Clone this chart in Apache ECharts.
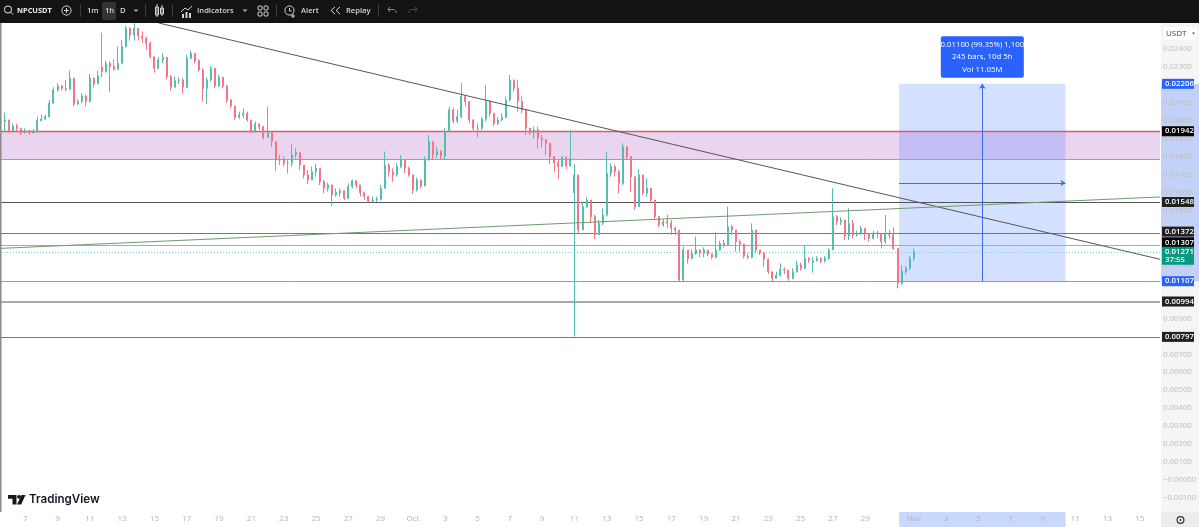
<!DOCTYPE html>
<html><head><meta charset="utf-8">
<style>html,body{margin:0;padding:0;background:#fff}#c{width:1199px;height:527px}</style>
<script src="https://cdn.jsdelivr.net/npm/echarts@6/dist/echarts.min.js"></script>
</head><body><div id="c"></div>
<script>
// prices below are in units of 0.00001 USDT; one candle every 6 hours from Sep 5 12:00
const closes=[1996,2005,1945,1971,1958,1934,1945,1934,1940,2001,2009,2023,2098,2172,2194,2181,2176,2237,2094,2107,2138,2107,2237,2205,2250,2274,2320,2302,2287,2320,2413,2515,2478,2515,2473,2460,2432,2357,2293,2339,2354,2246,2187,2224,2228,2187,2348,2376,2335,2283,2181,2228,2293,2194,2242,2194,2116,2083,2020,2033,2042,2005,1940,1983,1968,1908,1934,1884,1782,1786,1764,1764,1810,1823,1754,1699,1671,1717,1736,1661,1624,1643,1587,1600,1611,1569,1634,1667,1643,1600,1578,1554,1559,1563,1624,1754,1717,1699,1745,1782,1736,1699,1615,1671,1637,1782,1884,1810,1829,1804,1940,2061,1999,2023,2135,2107,2005,1959,1959,2009,2107,2042,1986,2005,2020,2116,2224,2181,2107,2061,1959,1934,1949,1903,1894,1875,1801,1767,1745,1797,1749,1791,1699,1392,1522,1559,1467,1365,1430,1476,1708,1745,1717,1652,1856,1801,1689,1522,1699,1597,1624,1559,1467,1420,1439,1430,1402,1392,1114,1281,1234,1262,1281,1262,1281,1258,1240,1281,1318,1308,1410,1392,1327,1314,1247,1240,1392,1281,1266,1229,1160,1123,1141,1173,1169,1123,1160,1197,1179,1234,1225,1221,1234,1221,1234,1281,1466,1438,1448,1359,1429,1364,1373,1401,1373,1346,1373,1373,1327,1373,1364,1290,1095,1160,1179,1234,1271];
const highs=[2014,2046,1986,1986,1983,1958,1958,1949,1953,2023,2033,2033,2116,2187,2209,2200,2228,2280,2237,2120,2153,2144,2261,2242,2280,2491,2335,2330,2343,2413,2450,2528,2521,2543,2515,2497,2469,2441,2357,2354,2376,2354,2255,2246,2242,2237,2367,2391,2376,2343,2293,2242,2305,2293,2255,2237,2200,2120,2079,2051,2070,2051,2005,1996,1986,1971,2079,1940,1884,1810,1801,1782,1871,1847,1823,1754,1726,1745,1760,1736,1671,1656,1643,1624,1624,1615,1652,1674,1667,1643,1606,1582,1578,1578,1643,1829,1764,1736,1764,1810,1782,1745,1699,1684,1671,1801,1921,1875,1856,1838,1958,2079,2070,2061,2209,2144,2107,2009,1986,2020,2200,2116,2042,2020,2042,2135,2255,2231,2228,2135,1986,1959,1968,1968,1921,1897,1847,1801,1782,1804,1801,1949,1760,1699,1550,1574,1559,1476,1448,1513,1829,1764,1754,1727,1875,1853,1791,1689,1730,1699,1680,1624,1559,1467,1452,1476,1448,1411,1392,1299,1281,1284,1355,1284,1295,1281,1262,1383,1332,1336,1522,1420,1392,1340,1314,1262,1429,1392,1281,1266,1234,1160,1160,1206,1184,1169,1179,1221,1210,1303,1240,1240,1247,1240,1247,1290,1624,1475,1462,1448,1513,1448,1388,1414,1401,1373,1388,1388,1373,1475,1392,1407,1290,1197,1192,1247,1290];
const lows=[1958,1940,1931,1945,1940,1921,1927,1923,1927,1934,1996,2009,2020,2094,2163,2168,2163,2172,2083,2088,2098,2079,2101,2187,2205,2242,2268,2163,2280,2283,2320,2409,2447,2447,2447,2432,2395,2348,2268,2287,2320,2231,2168,2187,2205,2150,2181,2343,2320,2274,2107,2094,2218,2181,2187,2181,2101,2070,2005,2009,2014,1996,1931,1934,1949,1897,1908,1856,1723,1754,1745,1708,1745,1791,1726,1680,1648,1671,1689,1643,1597,1606,1526,1578,1578,1559,1563,1624,1624,1578,1559,1546,1546,1548,1556,1624,1689,1661,1689,1736,1708,1689,1593,1606,1624,1637,1778,1786,1791,1786,1786,1940,1986,1986,2014,2079,1986,1940,1908,1946,1996,2023,1972,1977,1996,2014,2107,2163,2051,2042,1921,1921,1903,1847,1853,1810,1760,1717,1675,1773,1730,1745,799,1374,1392,1513,1430,1342,1374,1420,1467,1689,1689,1597,1643,1782,1606,1504,1522,1587,1578,1541,1448,1407,1411,1402,1365,1365,1104,1104,1206,1229,1253,1240,1240,1247,1229,1234,1277,1295,1308,1364,1271,1271,1234,1229,1234,1266,1253,1188,1147,1104,1123,1132,1147,1110,1117,1154,1166,1173,1210,1154,1216,1206,1210,1225,1281,1420,1420,1336,1336,1346,1355,1364,1336,1327,1340,1346,1290,1314,1346,1281,1067,1086,1147,1169,1221];
const openOverrides={25:2300,142:1600,201:1212};
const tickLabels=[[6,'7'],[14,'9'],[22,'11'],[30,'13'],[38,'15'],[46,'17'],[54,'19'],[62,'21'],[70,'23'],[78,'25'],[86,'27'],[94,'29'],[102,'Oct'],[110,'3'],[118,'5'],[126,'7'],[134,'9'],[142,'11'],[150,'13'],[158,'15'],[166,'17'],[174,'19'],[182,'21'],[190,'23'],[198,'25'],[206,'27'],[214,'29'],[226,'Nov'],[234,'3'],[242,'5'],[250,'7'],[258,'9'],[266,'11'],[274,'13'],[282,'15']];
const priceTicks=[2400,2300,2200,2100,2000,1900,1800,1700,1600,1500,1400,1300,1200,1100,1000,900,800,700,600,500,400,300,200,100,0,-100];
const zonePrices=[1788,1942];
const positionTool={fromBar:222.4,toBar:263.6,midBar:243,entry:1107,target:2206,midPrice:1654};
const downTrend=[[39,2545],[287,1229]];
const upTrend=[[0,1290],[287,1576]];
const currentPrice=1271;
const SCALE=1e-5;
const BARS=288;
const p=v=>v*SCALE;

const tickMap=new Map(tickLabels);
const categories=[];
for(let i=0;i<BARS;i++){const d=new Date(Date.UTC(2025,8,5,12+6*i));categories.push(d.toISOString().slice(5,16));}
const candles=closes.map((c,i)=>{
  const o=openOverrides[i]!==undefined?openOverrides[i]:(i?closes[i-1]:c);
  return [p(o),p(c),p(Math.min(lows[i],o,c)),p(Math.max(highs[i],o,c))];
});

function tag(bg,off,text,extra){return Object.assign({show:true,position:'end',distance:2,offset:[0,off||0],formatter:text,backgroundColor:bg,color:'#fff',fontFamily:'Open Sans',fontSize:7.8,fontWeight:600,padding:[1,3],width:26},extra||{});}
const fmt=v=>(v/1e5).toFixed(5);
function level(v,color,width,bg,off){return {yAxis:p(v),lineStyle:{color:color,width:width,type:'solid',opacity:1},label:tag(bg,off,fmt(v))};}

const levels=[
 level(2206,'rgba(0,0,0,0)',1,'#2962ff',0),
 level(1942,'#e05a6a',1.4,'#000',0),
 level(1788,'#e8808c',1,'#000',0),
 level(1548,'#555',1,'#222',0),
 level(1372,'#777',1,'#222',-2),
 level(1307,'#aaa',1,'#000',-3),
 level(1107,'#999',1,'#2962ff',0),
 level(994,'#aaa',1.8,'#222',0),
 level(797,'#777',1,'#222',0)
];
levels[2].label={show:false};

const option={
 animation:false,
 backgroundColor:'#fff',
 grid:{left:1,right:39,top:23,bottom:15,outerBoundsMode:'none'},
 xAxis:[
  {type:'category',data:categories,boundaryGap:false,axisLine:{show:false},axisTick:{show:false},splitLine:{show:false},
   axisLabel:{interval:i=>tickMap.has(i),formatter:(v,i)=>tickMap.get(i)||'',color:'#b4b4b4',fontFamily:'Open Sans',fontSize:8,margin:3,hideOverlap:false}},
  {type:'value',min:0,max:BARS-1,show:false,splitLine:{show:false}}
 ],
 yAxis:{type:'value',position:'right',min:p(-178),max:p(2544.7),axisLine:{show:false},axisTick:{show:false},splitLine:{show:false},
  axisLabel:{customValues:priceTicks.map(p),formatter:v=>(v<=1e-9?'\u2212':'')+Math.abs(v).toFixed(5),color:'#bdbdbd',fontFamily:'Open Sans',fontSize:7.8,margin:3}},
 series:[
  {name:'zone',type:'line',xAxisIndex:1,data:[],z:1,silent:true,
   markArea:{silent:true,z:1,itemStyle:{color:'#ead5f0'},data:[[{xAxis:0,yAxis:p(zonePrices[0])},{xAxis:BARS-1,yAxis:p(zonePrices[1])}]]}},
  {name:'position',type:'line',xAxisIndex:1,data:[],z:2,silent:true,
   markArea:{silent:true,z:2,itemStyle:{color:'rgba(41,98,255,0.2)'},data:[[{xAxis:positionTool.fromBar,yAxis:p(positionTool.entry)},{xAxis:positionTool.toBar,yAxis:p(positionTool.target)}]]}},
  {name:'levels',type:'line',xAxisIndex:1,data:[],z:3,silent:true,
   markLine:{silent:true,symbol:'none',z:3,precision:6,data:levels}},
  {name:'current',type:'line',xAxisIndex:1,data:[],z:3,silent:true,
   markLine:{silent:true,symbol:'none',z:4,precision:6,data:[{yAxis:p(currentPrice),lineStyle:{color:'#7fd4c8',width:1,type:[1,2]},
     label:tag('#089981',4,fmt(currentPrice)+'\n37:55',{lineHeight:8.5,padding:[0.5,3]})}]}},
  {name:'NPCUSDT',type:'candlestick',xAxisIndex:0,data:candles,z:5,barWidth:1.5,large:false,silent:true,
   itemStyle:{color:'#2aa898',color0:'#f24a5e',borderColor:'#55bdaf',borderColor0:'#f47585',borderWidth:1}},
  {name:'downTrend',type:'line',xAxisIndex:1,data:downTrend.map(d=>[d[0],p(d[1])]),symbol:'none',z:6,silent:true,lineStyle:{color:'#555',width:1}},
  {name:'upTrend',type:'line',xAxisIndex:1,data:upTrend.map(d=>[d[0],p(d[1])]),symbol:'none',z:6,silent:true,lineStyle:{color:'#6f9a6f',width:1}},
  {name:'targetArrow',type:'line',xAxisIndex:1,data:[],z:7,silent:true,
   markLine:{silent:true,z:7,precision:6,label:{show:false},lineStyle:{color:'#3a6cf0',width:1,type:'solid'},symbolSize:5,data:[
     [{coord:[positionTool.midBar,p(positionTool.entry)],symbol:'none'},{coord:[positionTool.midBar,p(positionTool.target)],symbol:'arrow'}],
     [{coord:[positionTool.fromBar,p(positionTool.midPrice)],symbol:'none'},{coord:[positionTool.toBar,p(positionTool.midPrice)],symbol:'arrow'}]
   ]},
   markPoint:{silent:true,symbol:'circle',symbolSize:0,data:[{coord:[positionTool.midBar,p(positionTool.target)],
     label:{show:true,position:'top',distance:6,formatter:'0.01100 (99.35%) 1,100\n245 bars, 10d 5h\nVol 11.05M',color:'#fff',fontFamily:'Open Sans',fontSize:7.8,fontWeight:500,lineHeight:12.5,align:'center',backgroundColor:'#2962ff',borderRadius:2,padding:[2,5,2,5],width:73}}]}}
 ]
};

const chart=echarts.init(document.getElementById('c'),null,{renderer:'canvas',width:1199,height:527});
chart.setOption(option);

const TXT='#d6d6d6';
const t=(x,y,s,o)=>({type:'text',z:101,x:x,y:y,silent:true,style:Object.assign({text:s,fill:TXT,font:'600 7.6px "Open Sans"',textVerticalAlign:'middle'},o||{})});
const ln=(a,b,c,d,col,w)=>({type:'line',z:101,silent:true,shape:{x1:a,y1:b,x2:c,y2:d},style:{stroke:col||TXT,lineWidth:w||1}});
const circ=(x,y,r,col)=>({type:'circle',z:101,silent:true,shape:{cx:x,cy:y,r:r},style:{fill:'none',stroke:col||TXT,lineWidth:1}});
const box=(x,y,w,h,o,z)=>({type:'rect',z:z===undefined?100:z,silent:true,shape:{x:x,y:y,width:w,height:h,r:(o&&o.r)||0},style:{fill:o.fill,stroke:o.stroke||'none'}});
const poly=(pts,fill,z)=>({type:'polygon',z:z||101,silent:true,shape:{points:pts},style:{fill:fill}});

const px=b=>chart.convertToPixel({xAxisIndex:1},b);
const py=v=>chart.convertToPixel({yAxisIndex:0},p(v));
const g=[
 box(1161,23,38,489,{fill:'#f5f5f5'},-5),
 box(1161,py(positionTool.target),38,py(positionTool.entry)-py(positionTool.target),{fill:'#c2d1f7'},-4),
 box(px(positionTool.fromBar),512,px(positionTool.toBar)-px(positionTool.fromBar),15,{fill:'#c9d8fd'},-4),
 box(0,23,1.5,489,{fill:'#8a8a8a'},50),
 box(1164,27,33,13,{fill:'#fff',r:1},50),
 {type:'text',z:51,x:1166,y:33.5,silent:true,style:{text:'USDT',fill:'#444',font:'8px "Open Sans"',textVerticalAlign:'middle'}},
 poly([[1192,32.5],[1195,32.5],[1193.5,34.5]],'#555',51),
 box(1161,512,38,15,{fill:'#ececec'},50),
 {type:'circle',z:51,silent:true,shape:{cx:1180.5,cy:520,r:3.4},style:{fill:'none',stroke:'#333',lineWidth:1.2}},
 {type:'circle',z:51,silent:true,shape:{cx:1180.5,cy:520,r:1},style:{fill:'#333'}},
 box(0,0,1199,23,{fill:'#131313'},100),
 circ(8,9.5,3.6,'#e8e8e8'),ln(10.7,12.2,13,14.5,'#e8e8e8'),
 t(17,10.5,'NPCUSDT',{fill:'#eeeeee',font:'700 7.4px "Open Sans"'}),
 circ(66.5,10.5,4.6),ln(64,10.5,69,10.5),ln(66.5,8,66.5,13),
 ln(80.5,4,80.5,17,'#3a3a3a'),
 t(87,10.5,'1m'),
 box(102,2,14,18,{fill:'#333333',r:2},100.5),
 t(105,10.5,'1h'),
 t(120,10.5,'D'),
 poly([[133.5,9.5],[138.5,9.5],[136,12]],'#aaa'),
 ln(145.5,4,145.5,17,'#3a3a3a'),
 ln(157,4,157,17),{type:'rect',z:101,silent:true,shape:{x:155.5,y:7,width:3,height:8},style:{fill:'none',stroke:TXT}},
 ln(162,5,162,16),{type:'rect',z:101,silent:true,shape:{x:160.5,y:8,width:3,height:6},style:{fill:'none',stroke:TXT}},
 ln(172.5,4,172.5,17,'#3a3a3a'),
 {type:'polyline',z:101,silent:true,shape:{points:[[181,12],[185,8],[188,10],[192,6]]},style:{fill:'none',stroke:TXT}},
 box(182,14,2,4,{fill:TXT},101),box(185.5,12,2,6,{fill:TXT},101),box(189,13,2,5,{fill:TXT},101),
 t(197,10.5,'Indicators'),
 poly([[242.5,9.5],[247.5,9.5],[245,12]],'#aaa'),
 {type:'rect',z:101,silent:true,shape:{x:258,y:6,width:4,height:4,r:1},style:{fill:'none',stroke:TXT}},
 {type:'rect',z:101,silent:true,shape:{x:264,y:6,width:4,height:4,r:1},style:{fill:'none',stroke:TXT}},
 {type:'rect',z:101,silent:true,shape:{x:258,y:12,width:4,height:4,r:1},style:{fill:'none',stroke:TXT}},
 {type:'rect',z:101,silent:true,shape:{x:264,y:12,width:4,height:4,r:1},style:{fill:'none',stroke:TXT}},
 ln(276.5,4,276.5,17,'#3a3a3a'),
 circ(289.5,10.5,4.6),ln(289.5,8,289.5,11),ln(289.5,11,291.5,11),ln(293,14,293,18),ln(291,16,295,16),
 t(301,10.5,'Alert'),
 {type:'polyline',z:101,silent:true,shape:{points:[[335,7],[331,10.5],[335,14]]},style:{fill:'none',stroke:TXT}},
 {type:'polyline',z:101,silent:true,shape:{points:[[340,7],[336,10.5],[340,14]]},style:{fill:'none',stroke:TXT}},
 t(346,10.5,'Replay'),
 ln(378.5,4,378.5,17,'#3a3a3a'),
 {type:'polyline',z:101,silent:true,shape:{points:[[390,7],[388,9.5],[390,12]]},style:{fill:'none',stroke:'#8a8a8a'}},
 {type:'polyline',z:101,silent:true,shape:{points:[[388,9.5],[394,9.5],[396,11.5],[396,13]]},style:{fill:'none',stroke:'#8a8a8a'}},
 {type:'polyline',z:101,silent:true,shape:{points:[[415,7],[417,9.5],[415,12]]},style:{fill:'none',stroke:'#4a4a4a'}},
 {type:'polyline',z:101,silent:true,shape:{points:[[417,9.5],[411,9.5],[409,11.5],[409,13]]},style:{fill:'none',stroke:'#4a4a4a'}},
 poly([[8,495],[16.5,495],[16.5,504.5],[12.5,504.5],[12.5,498.8],[8,498.8]],'#131722',60),
 {type:'circle',z:60,silent:true,shape:{cx:19,cy:496.8,r:1.9},style:{fill:'#131722'}},
 poly([[21.5,495],[25.5,495],[21.2,504.5],[17,504.5]],'#131722',60),
 {type:'text',z:60,x:29,y:500,silent:true,style:{text:'TradingView',fill:'#131722',font:'600 11.6px Inter',textVerticalAlign:'middle'}}
];
chart.setOption({graphic:{elements:g}});
</script></body></html>
